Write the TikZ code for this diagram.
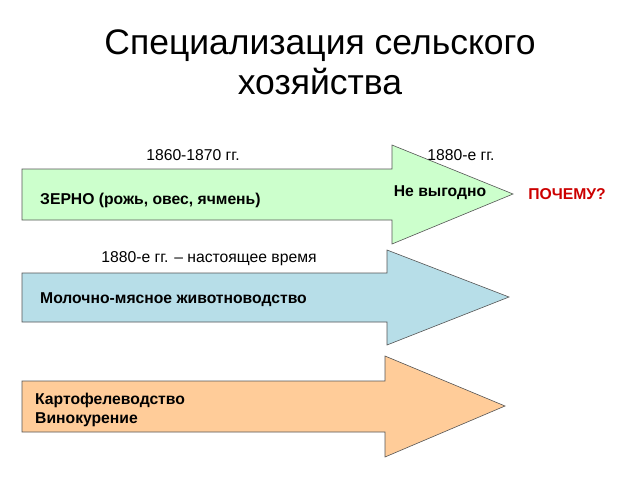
\documentclass[tikz,border=0pt]{standalone}
\usepackage{fontspec}
\setmainfont{Liberation Sans}
\definecolor{agreen}{HTML}{CCFFCC}
\definecolor{ablue}{HTML}{B7DEE8}
\definecolor{aorange}{HTML}{FFCC99}
\definecolor{aline}{HTML}{555555}
\definecolor{why}{HTML}{CC0000}
\begin{document}
\begin{tikzpicture}[x=1pt,y=-1pt,
  arrowshape/.style={draw=aline,line width=0.6pt,line join=miter},
  lbl/.style={inner sep=0pt,font=\fontsize{15.7}{18}\selectfont},
  blbl/.style={inner sep=0pt,font=\fontsize{15.7}{18}\selectfont\bfseries},
  ttl/.style={inner sep=0pt,font=\fontsize{35.5}{40}\selectfont,align=center}]
\useasboundingbox (0,0) rectangle (640,480);
\fill[white] (0,0) rectangle (640,480);
% title
\node[ttl] (title) at (320,62) {Специализация сельского\\хозяйства};
% arrow 1
\draw[arrowshape,fill=agreen] (22,169) -- (392,169) -- (392,145) -- (513,194) -- (392,244) -- (392,220) -- (22,220) -- cycle;
% arrow 2
\draw[arrowshape,fill=ablue] (22,273) -- (387,273) -- (387,250) -- (509,297) -- (387,345) -- (387,322) -- (22,322) -- cycle;
% arrow 3
\draw[arrowshape,fill=aorange] (22,381) -- (385,381) -- (385,356) -- (505,406) -- (385,457) -- (385,432) -- (22,432) -- cycle;
% labels
\node[lbl] (p1) at (193,155) {1860-1870 гг.};
\node[lbl] (p2) at (461,155) {1880-е гг.};
\node[blbl,anchor=west] (grain) at (40,200) {ЗЕРНО (рожь, овес, ячмень)};
\node[blbl] (bad) at (440,193) {Не выгодно};
\node[blbl,text=why] (why) at (567,194) {ПОЧЕМУ?};
\node[lbl] (p3) at (209,259) {1880-е гг. -- настоящее время};
\node[blbl,anchor=west] (milk) at (40,300) {Молочно-мясное животноводство};
\node[blbl,anchor=west,align=left,font=\fontsize{15.7}{19}\selectfont\bfseries] (pot) at (35,410) {Картофелеводство\\Винокурение};
\end{tikzpicture}
\end{document}
